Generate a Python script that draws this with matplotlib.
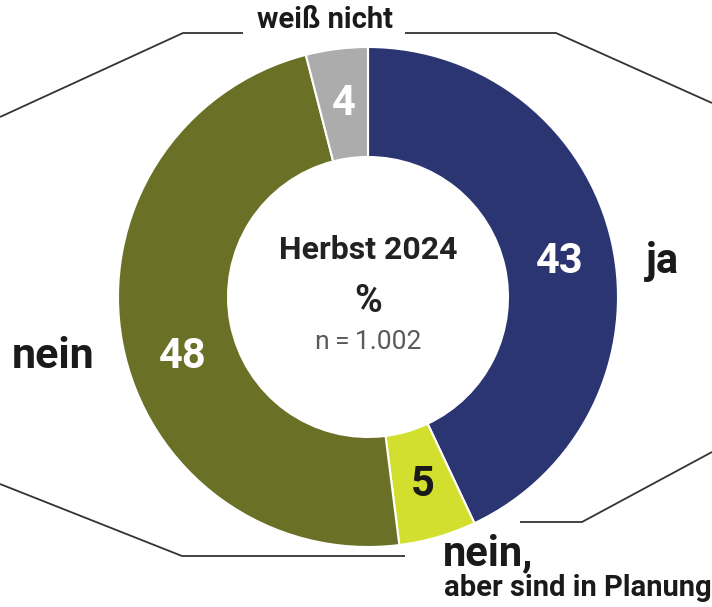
import matplotlib
matplotlib.use("Agg")
import matplotlib.pyplot as plt
import numpy as np

plt.rcParams['font.family'] = ['Roboto', 'DejaVu Sans']

# data
labels = ["ja", "nein, aber sind in Planung", "nein", "weiß nicht"]
values = [43, 5, 48, 4]
colors = ["#2b3571", "#d3df2e", "#6a7126", "#acacac"]
value_colors = ["white", "#1a1a1a", "white", "white"]
label_shift = [-2, 0, 7, 0]  # small angle nudges (deg) for value labels

W, H = 712, 607
fig = plt.figure(figsize=(W / 100, H / 100), dpi=100)
ax = fig.add_axes([0, 0, 1, 1])

cx, cy = 368, H - 297
r_out, r_in = 250, 140

wedges, _ = ax.pie(values, colors=colors, startangle=90, counterclock=False,
                   radius=r_out, center=(cx, cy),
                   wedgeprops=dict(width=r_out - r_in, edgecolor="white", linewidth=1.5))
ax.set_xlim(0, W)
ax.set_ylim(0, H)
ax.set_aspect("equal")
ax.axis("off")

# value labels in the ring
r_lab = (r_out + r_in) / 2
for w, v, tc, sh in zip(wedges, values, value_colors, label_shift):
    ang = np.deg2rad((w.theta1 + w.theta2) / 2 + sh)
    ax.text(cx + r_lab * np.cos(ang), cy + r_lab * np.sin(ang), str(v),
            ha="center", va="center", color=tc, fontsize=30, fontweight="bold")

# centre text
ax.text(cx, H - 250, "Herbst 2024", ha="center", va="center", fontsize=23,
        fontweight="bold", color="#222222")
ax.text(cx, H - 302, "%", ha="center", va="center", fontsize=27,
        fontweight="bold", color="#222222")
ax.text(cx, H - 342, "n\u2009=\u20091.002", ha="center", va="center", fontsize=19,
        color="#5a5a5a")

# category labels
ax.text(663, H - 262, "ja", ha="center", va="center", fontsize=30,
        fontweight="bold", color="#1a1a1a")
ax.text(53, H - 357, "nein", ha="center", va="center", fontsize=31,
        fontweight="bold", color="#1a1a1a")
ax.text(443, H - 554, "nein,", ha="left", va="center", fontsize=30,
        fontweight="bold", color="#1a1a1a")
ax.text(712, H - 588, "aber sind in Planung", ha="right", va="center", fontsize=21,
        fontweight="bold", color="#1a1a1a")
ax.text(325, H - 20, "weiß nicht", ha="center", va="center", fontsize=21,
        fontweight="bold", color="#1a1a1a")

# octagon frame lines
lc = "#333333"
frame = [
    [(0, 117), (183, 33), (243, 33)],
    [(405, 33), (556, 33), (712, 103)],
    [(0, 484), (182, 556), (405, 556)],
    [(520, 522), (582, 522), (712, 452)],
]
for seg in frame:
    xs = [p[0] for p in seg]
    ys = [H - p[1] for p in seg]
    ax.plot(xs, ys, color=lc, linewidth=1.3, solid_capstyle="butt")

fig.savefig("out.png", dpi=100, facecolor="white")
